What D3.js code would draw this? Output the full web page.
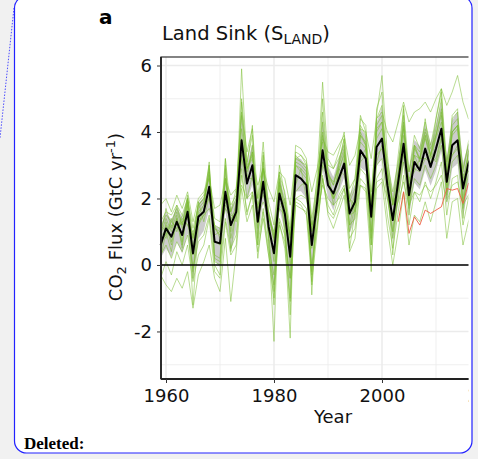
<!DOCTYPE html>
<html>
<head>
<meta charset="utf-8">
<script src="https://cdn.jsdelivr.net/npm/d3@7"></script>
<style>
  html, body { margin: 0; padding: 0; background: #f1f1f1; }
  svg { display: block; font-family: "DejaVu Sans", sans-serif; }
</style>
</head>
<body>
<div id="chart"></div>
<script>
// ---- data (GtC per year) ----
const years = d3.range(1959, 2018);

// budget estimate (black line)
const landSink = [0.6, 1.1, 0.85, 1.3, 0.9, 1.6, 0.35, 1.45, 1.6, 2.35,
  0.7, 0.65, 2.2, 1.2, 1.6, 3.75, 2.45, 3.0, 1.3, 2.5,
  1.15, 0.35, 2.15, 1.55, 0.25, 2.7, 2.6, 2.4, 0.6, 1.9,
  3.45, 2.4, 2.15, 2.6, 3.05, 1.55, 1.9, 3.45, 3.2, 1.45,
  3.55, 3.8, 2.4, 1.35, 2.5, 3.65, 2.1, 3.1, 2.85, 3.5,
  2.95, 3.5, 4.1, 2.5, 3.6, 3.75, 2.3, 3.05, 3.4];

// red estimate, starts 2003
const redYears = d3.range(2003, 2018);
const redSink = [1.3, 2.2, 0.95, 1.45, 1.2, 1.65, 1.55, 1.65, 1.75, 2.3, 2.25, 2.3, 1.85, 2.45, 2.5];

// individual models (green lines)
const dgvmA = [0.9, 1.4, 1.0, 1.6, 1.1, 1.9, 0.3, 1.7, 1.9, 2.8,
  0.7, 0.6, 2.6, 1.3, 1.8, 4.5, 2.8, 3.4, 1.3, 2.9,
  1.2, 0.1, 2.5, 1.7, 0.0, 3.1, 3.0, 2.8, 0.5, 2.2,
  4.0, 2.7, 2.4, 3.0, 3.5, 1.6, 2.1, 3.9, 3.6, 1.5,
  4.1, 4.3, 2.7, 1.4, 2.8, 4.2, 2.3, 3.5, 3.2, 3.9,
  3.3, 3.9, 4.6, 2.7, 4.0, 4.2, 2.4, 3.4, 3.8];
const dgvmB = [1.8, 2.0, 1.6, 2.1, 1.7, 2.2, 1.3, 2.0, 2.2, 2.6,
  1.7, 1.8, 2.6, 2.1, 2.3, 3.4, 2.9, 3.2, 2.4, 2.9,
  2.3, 1.9, 2.8, 2.6, 1.8, 3.2, 3.3, 3.1, 2.2, 2.9,
  3.8, 3.4, 3.3, 3.6, 3.9, 3.0, 3.3, 4.1, 4.0, 3.2,
  4.4, 4.6, 4.0, 3.7, 4.3, 4.9, 4.3, 4.6, 4.7, 4.9,
  4.6, 5.0, 5.3, 4.8, 5.2, 5.7, 4.9, 4.4, 4.3];
const dgvmC = [-0.3, -0.6, -0.8, -0.4, -0.7, -0.2, -1.3, -0.3, 0.1, 0.6,
  -0.4, -0.8, 0.8, -1.1, 0.4, 2.3, 1.3, 1.8, 0.4, 1.4,
  0.3, -0.6, 1.2, 0.7, -0.4, 1.8, 1.7, 1.6, 0.0, 1.2,
  2.6, 1.8, 1.5, 2.1, 2.4, 1.2, 1.4, 2.9, 2.7, 1.0,
  3.0, 3.2, 2.0, 1.0, 2.0, 3.1, 1.7, 2.6, 2.4, 3.0,
  2.6, 3.0, 3.6, 2.1, 3.1, 3.3, 1.9, 2.7, 3.0];
const dgvmD = [0.2, 1.0, 0.4, 1.4, 0.6, 1.8, -1.2, 1.2, 1.5, 3.0,
  0.0, -0.3, 3.2, 0.4, 1.7, 5.9, 3.0, 4.2, 0.6, 3.4,
  0.8, -2.3, 2.6, 0.9, -2.2, 3.4, 3.3, 3.0, -0.9, 2.0,
  5.0, 2.8, 2.0, 3.0, 3.8, 0.5, 1.6, 4.5, 4.0, -0.2,
  4.7, 5.2, 2.5, 0.3, 2.4, 4.8, 1.5, 3.6, 3.1, 4.4,
  3.2, 4.4, 5.3, 2.0, 4.5, 4.7, 1.4, 3.4, 4.0];
const dgvmE = [0.3, 0.6, 0.2, 0.7, 0.4, 0.9, -0.1, 0.7, 0.9, 1.5,
  0.1, 0.0, 1.4, 0.5, 0.9, 2.7, 1.6, 2.1, 0.6, 1.7,
  0.5, -0.3, 1.4, 0.9, -0.4, 2.0, 1.9, 1.7, -0.2, 1.2,
  2.6, 1.6, 1.4, 1.8, 2.3, 0.8, 1.1, 2.6, 2.4, 0.6,
  2.6, 2.9, 1.5, 0.5, 1.6, 2.7, 1.2, 2.2, 1.9, 2.5,
  2.0, 2.5, 3.1, 1.5, 2.6, 2.7, 1.2, 2.0, 2.4];
const dgvmF = [1.3, 1.6, 1.5, 1.8, 1.5, 2.0, 1.1, 1.8, 2.0, 2.6,
  1.4, 1.3, 2.5, 1.8, 2.1, 3.8, 2.9, 3.3, 2.0, 2.9,
  1.9, 1.2, 2.7, 2.2, 1.1, 3.2, 3.1, 3.0, 1.4, 2.5,
  3.9, 3.0, 2.9, 3.2, 3.6, 2.3, 2.6, 3.9, 3.7, 2.2,
  4.0, 4.3, 3.1, 2.2, 3.1, 4.1, 2.8, 3.6, 3.4, 4.0,
  3.5, 3.9, 4.5, 3.1, 4.0, 4.2, 2.9, 3.6, 3.9];
const dgvmG = [1.0, 0.8, 1.4, 1.0, 1.5, 1.2, 0.8, 1.9, 1.3, 2.1,
  1.1, 0.9, 1.9, 1.6, 1.3, 3.3, 2.0, 2.7, 1.7, 2.1,
  1.6, 0.9, 1.8, 2.0, 0.8, 2.4, 2.9, 2.0, 1.0, 1.6,
  3.1, 2.7, 1.8, 2.9, 2.7, 2.0, 1.6, 3.2, 3.5, 1.9,
  3.3, 3.5, 2.8, 1.9, 2.2, 3.3, 2.6, 2.8, 3.2, 3.2,
  3.3, 3.1, 3.8, 2.9, 3.3, 3.5, 2.7, 2.8, 3.2];
const dgvmH = [0.5, 1.2, 0.6, 1.5, 0.7, 2.0, -0.2, 1.6, 1.8, 3.1,
  0.2, 0.1, 2.9, 0.8, 1.6, 4.9, 2.6, 3.6, 0.8, 3.1,
  0.7, -1.2, 2.4, 1.1, -1.0, 3.0, 2.8, 2.6, -0.3, 2.0,
  4.3, 2.4, 2.0, 2.8, 3.4, 1.0, 1.8, 4.0, 3.6, 0.6,
  4.2, 4.5, 2.2, 0.8, 2.4, 4.3, 1.8, 3.3, 2.9, 3.9,
  3.0, 3.9, 4.7, 2.2, 4.0, 4.2, 1.7, 3.1, 3.7];
const dgvmI = [-0.4, 0.1, -0.3, 0.4, 0.0, 0.6, -0.5, 0.3, 0.6, 1.4,
  -0.2, -0.4, 1.3, 0.3, 0.6, 2.9, 1.5, 2.2, 0.2, 1.6,
  0.3, -1.0, 1.3, 0.5, -1.1, 1.9, 1.8, 1.5, -0.5, 1.0,
  2.7, 1.5, 1.1, 1.6, 2.1, 0.4, 0.8, 2.4, 2.2, 0.1,
  2.3, 2.5, 1.1, 0.0, 1.0, 2.2, 0.6, 1.5, 1.3, 1.9,
  1.3, 1.9, 2.5, 0.8, 1.9, 2.0, 0.6, 1.3, 1.7];
const dgvmJ = [1.1, 1.5, 1.3, 1.7, 1.2, 2.0, 0.8, 1.8, 2.0, 2.7,
  1.1, 1.0, 2.6, 1.6, 2.0, 4.1, 2.9, 3.4, 1.7, 2.9,
  1.5, 0.7, 2.5, 1.9, 0.6, 3.0, 2.9, 2.7, 1.0, 2.3,
  3.7, 2.7, 2.5, 2.9, 3.3, 1.9, 2.3, 3.7, 3.5, 1.8,
  3.8, 4.1, 2.8, 1.8, 2.8, 3.9, 2.5, 3.3, 3.2, 3.8,
  3.3, 3.8, 4.3, 2.8, 3.9, 4.1, 2.6, 3.3, 3.7];
const dgvmK = [0.8, 0.9, 1.2, 1.1, 1.3, 1.4, 0.9, 1.2, 1.7, 2.0,
  1.2, 0.8, 1.8, 1.5, 1.4, 3.2, 2.6, 2.6, 1.8, 2.2,
  1.5, 0.8, 1.7, 1.9, 0.9, 2.2, 2.4, 2.5, 1.2, 1.5,
  3.0, 2.6, 2.0, 2.3, 3.2, 2.0, 1.8, 3.1, 3.3, 1.8,
  3.1, 3.6, 2.9, 1.8, 2.3, 3.4, 2.4, 2.9, 2.8, 3.2,
  3.1, 3.2, 3.9, 2.8, 3.3, 3.6, 2.6, 2.8, 3.2];
const dgvmL = [0.9, 1.7, 1.1, 1.8, 1.2, 2.1, 0.5, 1.9, 2.1, 3.0,
  0.9, 1.0, 3.2, 1.6, 2.3, 4.6, 3.4, 4.1, 2.0, 3.7,
  1.6, 0.8, 3.0, 2.1, 0.8, 3.6, 3.5, 3.2, 1.1, 2.7,
  5.5, 3.2, 2.9, 3.4, 4.0, 2.0, 2.6, 4.4, 4.2, 1.8,
  4.5, 5.7, 3.3, 1.8, 3.3, 4.7, 2.8, 3.9, 3.5, 4.3,
  3.6, 4.4, 5.2, 3.0, 4.4, 4.6, 2.8, 3.7, 4.1];
const dgvmM = [1.2, 1.0, 1.3, 1.1, 1.4, 1.2, 1.0, 1.3, 1.5, 1.7,
  1.2, 1.1, 1.7, 1.4, 1.5, 2.4, 2.0, 2.2, 1.5, 1.9,
  1.4, 1.0, 1.7, 1.5, 0.9, 2.0, 2.1, 2.0, 1.2, 1.6,
  2.4, 2.0, 1.8, 2.0, 2.3, 1.5, 1.6, 2.4, 2.3, 1.4,
  2.5, 2.6, 2.0, 1.5, 1.9, 2.5, 1.8, 2.2, 2.1, 2.4,
  2.2, 2.4, 2.7, 1.9, 2.4, 2.5, 1.8, 2.1, 2.3];
const dgvmN = [0.4, 1.3, 0.7, 1.4, 0.5, 1.9, -0.4, 1.5, 1.8, 2.9,
  0.3, 0.2, 3.0, 1.0, 1.9, 5.0, 3.1, 3.9, 1.1, 3.3,
  1.0, -0.8, 2.8, 1.4, -1.5, 3.3, 3.1, 2.9, -0.6, 2.2,
  4.6, 2.8, 2.4, 3.1, 3.8, 1.2, 2.0, 4.2, 3.9, 0.8,
  4.4, 4.8, 2.6, 1.0, 2.7, 4.5, 2.0, 3.6, 3.2, 4.1,
  3.3, 4.1, 5.0, 2.4, 4.2, 4.4, 2.0, 3.4, 3.9];

const dgvms = [dgvmA, dgvmB, dgvmC, dgvmD, dgvmE, dgvmF, dgvmG,
  dgvmH, dgvmI, dgvmJ, dgvmK, dgvmL, dgvmM, dgvmN];

const yMajor = [-2, 0, 2, 4, 6];
const yMinor = [-3, -1, 1, 3, 5];
const xMajor = [1960, 1980, 2000, 2020];
const xMinor = [1970, 1990, 2010];

(function () {
  const width = 478;
  const height = 459;
  const panel = { left: 161, right: 505, top: 57, bottom: 379 };
  const clipRight = 468.5;

  const svg = d3.select("#chart")
    .append("svg")
    .attr("width", width)
    .attr("height", height);

  // page frame (tracked-changes box) and the dotted leader line
  svg.append("rect")
    .attr("x", 14.5).attr("y", -4)
    .attr("width", 457.5).attr("height", 457)
    .attr("rx", 12)
    .attr("fill", "#fff")
    .attr("stroke", "#2222ff")
    .attr("stroke-width", 1.2);

  svg.append("line")
    .attr("x1", 14).attr("y1", 8)
    .attr("x2", 0).attr("y2", 138)
    .attr("stroke", "#2222ff")
    .attr("stroke-width", 0.8)
    .attr("stroke-dasharray", "1.5,1.5");

  svg.append("text")
    .attr("x", 24).attr("y", 449)
    .attr("font-family", "'Liberation Serif', serif")
    .attr("font-weight", "bold")
    .attr("font-size", 17)
    .text("Deleted:");

  // scales
  const x = d3.scaleLinear()
    .domain([1959.074, 2022.78])
    .range([panel.left, panel.right]);
  const y = d3.scaleLinear()
    .domain([-3.43, 6.256])
    .range([panel.bottom, panel.top]);

  svg.append("defs").append("clipPath")
    .attr("id", "clip")
    .append("rect")
    .attr("x", 0).attr("y", 0)
    .attr("width", clipRight).attr("height", height);

  const g = svg.append("g").attr("clip-path", "url(#clip)");

  // grid
  g.append("g").selectAll("line")
    .data(yMinor)
    .join("line")
    .attr("x1", panel.left).attr("x2", panel.right)
    .attr("y1", (d) => y(d)).attr("y2", (d) => y(d))
    .attr("stroke", "#ebebeb").attr("stroke-width", 0.8);
  g.append("g").selectAll("line")
    .data(xMinor)
    .join("line")
    .attr("y1", panel.top).attr("y2", panel.bottom)
    .attr("x1", (d) => x(d)).attr("x2", (d) => x(d))
    .attr("stroke", "#ebebeb").attr("stroke-width", 0.8);
  g.append("g").selectAll("line")
    .data(yMajor)
    .join("line")
    .attr("x1", panel.left).attr("x2", panel.right)
    .attr("y1", (d) => y(d)).attr("y2", (d) => y(d))
    .attr("stroke", "#ebebeb").attr("stroke-width", 1.5);
  g.append("g").selectAll("line")
    .data(xMajor)
    .join("line")
    .attr("y1", panel.top).attr("y2", panel.bottom)
    .attr("x1", (d) => x(d)).attr("x2", (d) => x(d))
    .attr("stroke", "#ebebeb").attr("stroke-width", 1.5);

  const line = d3.line()
    .x((d, i) => x(years[i]))
    .y((d) => y(d));

  // model spread (mean +/- sd), drawn under the model lines
  const band = years.map((yr, i) => {
    const vals = dgvms.map((m) => m[i]);
    const mu = d3.mean(vals);
    const sd = d3.deviation(vals);
    return { yr, lo: mu - sd * 0.8, hi: mu + sd * 0.8 };
  });
  g.append("path")
    .datum(band)
    .attr("d", d3.area()
      .x((d) => x(d.yr))
      .y0((d) => y(d.lo))
      .y1((d) => y(d.hi)))
    .attr("fill", "#c6c6c6")
    .attr("fill-opacity", 0.9);

  // model lines
  g.append("g").selectAll("path")
    .data(dgvms)
    .join("path")
    .attr("d", line)
    .attr("fill", "none")
    .attr("stroke", "#7dbd35")
    .attr("stroke-opacity", 0.6)
    .attr("stroke-width", 0.9);

  // zero line
  g.append("line")
    .attr("x1", panel.left).attr("x2", panel.right)
    .attr("y1", y(0)).attr("y2", y(0))
    .attr("stroke", "#000").attr("stroke-width", 1.6);

  // red estimate
  g.append("path")
    .datum(redSink)
    .attr("d", d3.line().x((d, i) => x(redYears[i])).y((d) => y(d)))
    .attr("fill", "none")
    .attr("stroke", "#ee5c42")
    .attr("stroke-width", 0.9);

  // budget estimate
  g.append("path")
    .datum(landSink)
    .attr("d", line)
    .attr("fill", "none")
    .attr("stroke", "#000")
    .attr("stroke-width", 2)
    .attr("stroke-linejoin", "round");

  // panel border
  g.append("rect")
    .attr("x", panel.left).attr("y", panel.top)
    .attr("width", panel.right - panel.left)
    .attr("height", panel.bottom - panel.top)
    .attr("fill", "none")
    .attr("stroke", "#333")
    .attr("stroke-width", 1.2);
  g.append("line")
    .attr("x1", panel.left).attr("x2", panel.right)
    .attr("y1", panel.bottom).attr("y2", panel.bottom)
    .attr("stroke", "#222").attr("stroke-width", 1.8);
  svg.append("line")
    .attr("x1", panel.left).attr("x2", panel.left)
    .attr("y1", panel.top).attr("y2", panel.bottom)
    .attr("stroke", "#222").attr("stroke-width", 1.8);

  // axes
  const xAxis = g.append("g")
    .attr("transform", `translate(0,${panel.bottom})`)
    .call(d3.axisBottom(x).tickValues(xMajor).tickFormat((d) => String(d))
      .tickSize(4).tickPadding(6));
  const yAxis = svg.append("g")
    .attr("transform", `translate(${panel.left},0)`)
    .call(d3.axisLeft(y).tickValues(yMajor).tickFormat((d) => String(d))
      .tickSize(4).tickPadding(5));

  [xAxis, yAxis].forEach((a) => {
    a.select(".domain").remove();
    a.selectAll(".tick line").attr("stroke", "#333").attr("stroke-width", 1);
    a.selectAll(".tick text")
      .attr("fill", "#111")
      .style("font-size", "18px")
      .style("font-family", "'DejaVu Sans', sans-serif");
  });

  // titles
  svg.append("text")
    .attr("x", 99).attr("y", 24)
    .attr("font-weight", "bold")
    .attr("font-size", 20)
    .text("a");

  const title = svg.append("text")
    .attr("x", 162).attr("y", 39.5)
    .attr("font-size", 19.5)
    .attr("fill", "#111");
  title.append("tspan").text("Land Sink (S");
  title.append("tspan").attr("font-size", 14).attr("dy", 4).text("LAND");
  title.append("tspan").attr("dy", -4).text(")");

  svg.append("text")
    .attr("x", 333).attr("y", 423)
    .attr("text-anchor", "middle")
    .attr("font-size", 18)
    .attr("fill", "#111")
    .text("Year");

  const ylab = svg.append("text")
    .attr("transform", `translate(122,217) rotate(-90)`)
    .attr("text-anchor", "middle")
    .attr("font-size", 18)
    .attr("fill", "#111");
  ylab.append("tspan").text("CO");
  ylab.append("tspan").attr("font-size", 13).attr("dy", 4).text("2");
  ylab.append("tspan").attr("dy", -4).text(" Flux (GtC yr");
  ylab.append("tspan").attr("font-size", 13).attr("dy", -7).text("-1");
  ylab.append("tspan").attr("dy", 7).text(")");
})();
</script>
</body>
</html>
